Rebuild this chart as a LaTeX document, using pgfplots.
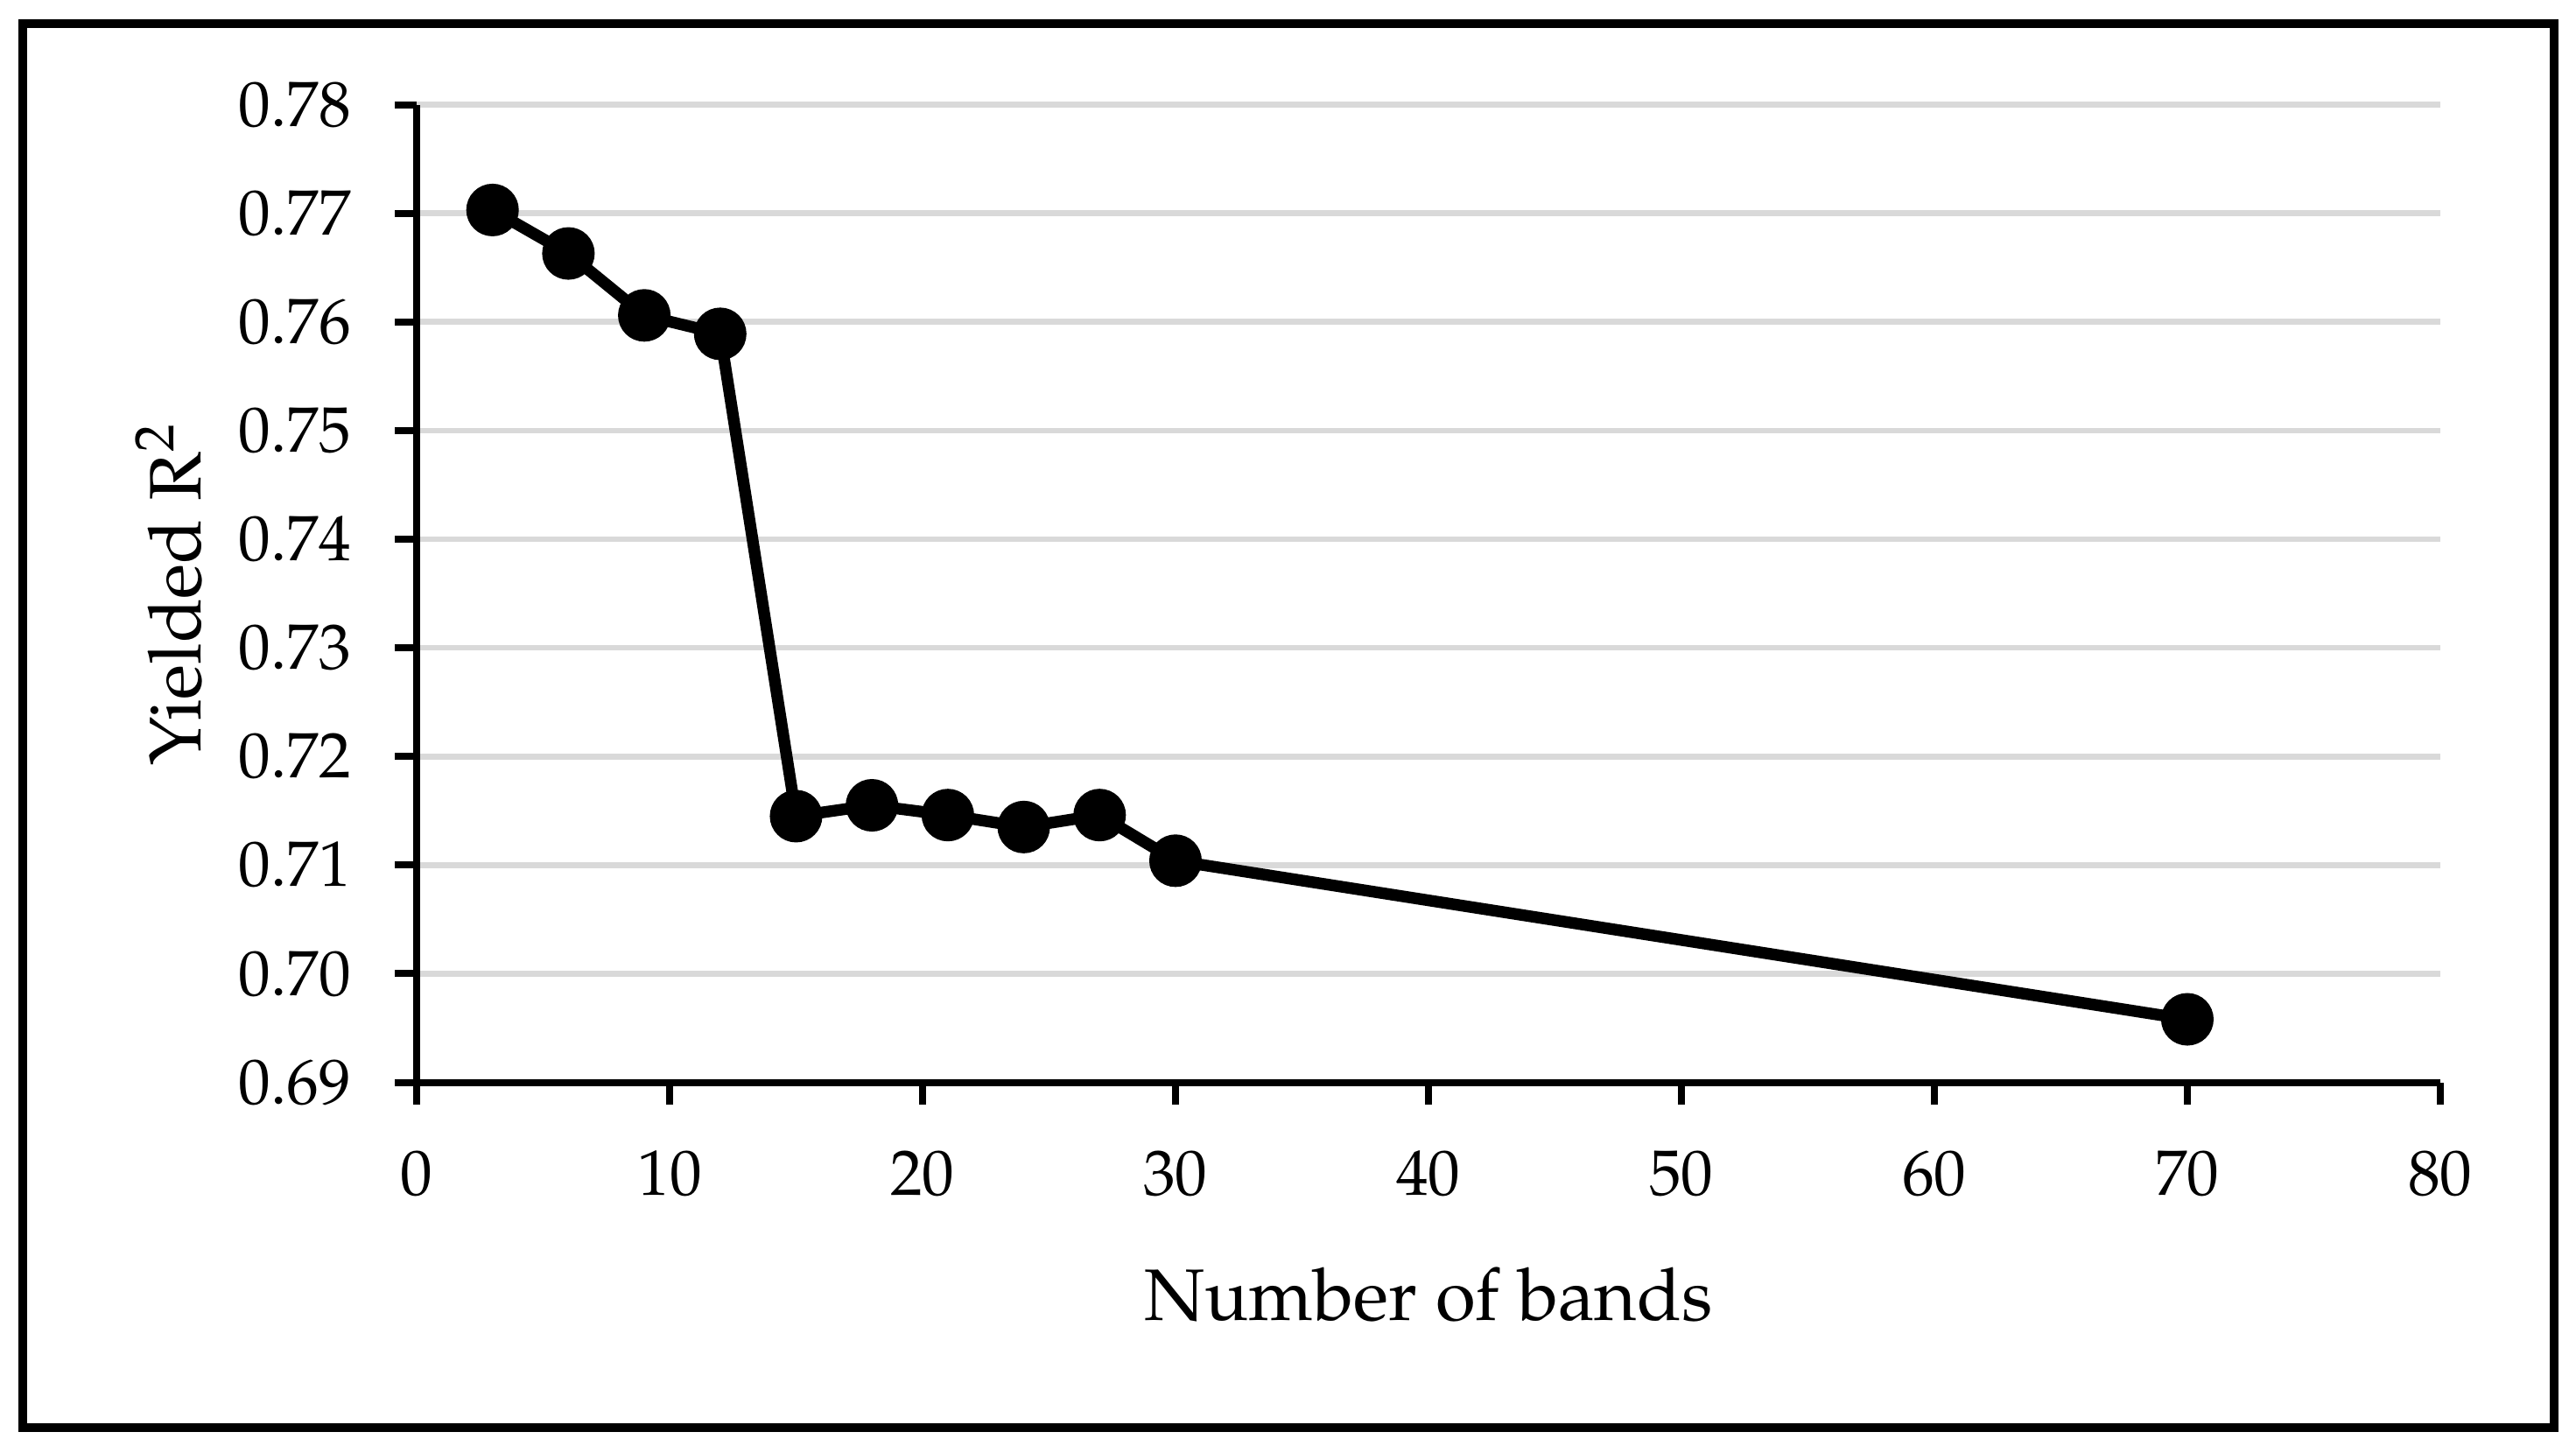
\documentclass[border=0pt]{standalone}
\usepackage[T1]{fontenc}
\usepackage{mathpazo}
\usepackage{pgfplots}
\pgfplotsset{compat=1.18}
\definecolor{gridgray}{RGB}{217,217,217}
\begin{document}
\begin{tikzpicture}
\useasboundingbox (0,0) rectangle (441.45pt,248.85pt);
\draw[line width=1.5pt] (3.825pt,4.2pt) rectangle (437.7pt,244.85pt);
\begin{axis}[
  at={(71.4pt,63.375pt)}, anchor=south west,
  scale only axis, width=346.8pt, height=167.55pt,
  xmin=0, xmax=80, ymin=0.69, ymax=0.78,
  xtick={0,10,20,30,40,50,60,70,80},
  ytick={0.69,0.70,0.71,0.72,0.73,0.74,0.75,0.76,0.77,0.78},
  yticklabel style={/pgf/number format/fixed, /pgf/number format/fixed zerofill, /pgf/number format/precision=2},
  /pgf/number format/assume math mode=true,
  axis x line=bottom, axis y line=left,
  axis line style={line width=1.2pt, -},
  tick style={line width=1.2pt, black},
  tick align=outside, major tick length=3.75pt,
  ymajorgrids, grid style={gridgray, line width=1pt},
  tick label style={font=\fontsize{11}{13}\selectfont},
  xticklabel style={yshift=-4.5pt},
  yticklabel style={xshift=-4pt},
  xlabel={Number of bands}, ylabel={Yielded R\textsuperscript{2}},
  label style={font=\fontsize{12.5}{15}\selectfont},
  xlabel style={at={(axis description cs:0.5,-0.217)}, anchor=center},
  ylabel style={at={(axis description cs:-0.1224,0.5)}, anchor=center},
  clip=false,
]
\addplot[black, line width=2pt, mark=*, mark size=3.5pt, mark options={solid, fill=black}]
coordinates {
(3,0.7703) (6,0.7663) (9,0.7606) (12,0.7589) (15,0.7145) (18,0.7155)
(21,0.7146) (24,0.7135) (27,0.7146) (30,0.7104) (70,0.6958)
};
\end{axis}
\end{tikzpicture}
\end{document}
